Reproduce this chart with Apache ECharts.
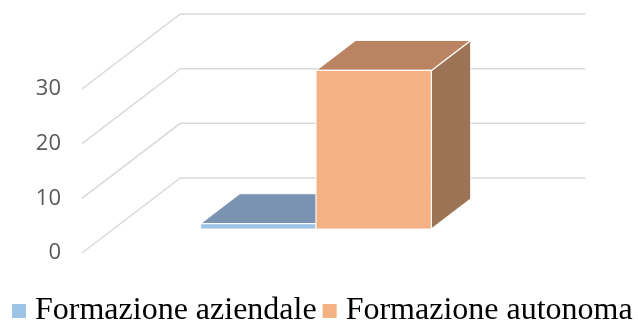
<!DOCTYPE html>
<html>
<head>
<meta charset="utf-8">
<script src="https://cdn.jsdelivr.net/npm/echarts@6/dist/echarts.min.js"></script>
<style>
  html, body { margin: 0; padding: 0; background: #fff; }
  #chart { width: 638px; height: 324px; }
</style>
</head>
<body>
<div id="chart"></div>
<script>
// Grafico a barre 3D (stile Excel) simulato con serie custom

var categories = [''];
var seriesNames = ['Formazione aziendale', 'Formazione autonoma'];
var aziendale = [1];
var autonoma = [29];
var yTicks = [0, 10, 20, 30];

// prospettiva obliqua: vettore profondità del "pavimento"
var DEPTH = { x: 98.3, y: -75 };
var D0 = 0.32, D1 = 0.72;     // posizione della barra in profondità
var BAR_RATIO = 0.285;        // larghezza barra / larghezza categoria

function gridLines(params, api) {
  var cs = params.coordSys;
  var p = api.coord([0, api.value(1)]);
  var y = p[1];
  var x0 = cs.x, x1 = cs.x + cs.width;
  return {
    type: 'polyline',
    shape: {
      points: [
        [x0, y],
        [x0 + DEPTH.x, y + DEPTH.y],
        [x1 + DEPTH.x, y + DEPTH.y]
      ]
    },
    style: { stroke: '#d9d9d9', lineWidth: 1.5, fill: null }
  };
}

function makeBox(slot, front, top, side) {
  return function (params, api) {
    var base = api.coord([api.value(0), 0]);
    var head = api.coord([api.value(0), api.value(1)]);
    var bw = api.size([1, 0])[0] * BAR_RATIO;
    var xl = base[0] + slot * bw, xr = xl + bw;
    var fx = D0 * DEPTH.x, fy = D0 * DEPTH.y;
    var bx = D1 * DEPTH.x, by = D1 * DEPTH.y;
    var edge = { stroke: 'rgba(255,255,255,0.9)', lineWidth: 1.2, lineJoin: 'round' };
    return {
      type: 'group',
      children: [
        {
          type: 'polygon',
          shape: { points: [[xr + fx, head[1] + fy], [xr + bx, head[1] + by], [xr + bx, base[1] + by], [xr + fx, base[1] + fy]] },
          style: Object.assign({ fill: side }, edge)
        },
        {
          type: 'polygon',
          shape: { points: [[xl + fx, head[1] + fy], [xr + fx, head[1] + fy], [xr + bx, head[1] + by], [xl + bx, head[1] + by]] },
          style: Object.assign({ fill: top }, edge)
        },
        {
          type: 'rect',
          shape: { x: xl + fx, y: head[1] + fy, width: bw, height: base[1] - head[1] },
          style: Object.assign({ fill: front }, edge)
        }
      ]
    };
  };
}

var chart = echarts.init(document.getElementById('chart'));
var option = {
  animation: false,
  grid: { left: 82, right: 151, top: 89, bottom: 71 },
  xAxis: {
    type: 'category',
    data: categories,
    show: false
  },
  yAxis: {
    type: 'value',
    min: 0,
    max: 30,
    interval: 10,
    axisLine: { show: false },
    axisTick: { show: false },
    splitLine: { show: false },
    axisLabel: {
      color: '#595959',
      fontFamily: 'Open Sans',
      fontSize: 22,
      margin: 21
    }
  },
  legend: {
    data: seriesNames,
    left: 12,
    top: 295,
    width: 626,
    padding: 0,
    icon: 'rect',
    itemWidth: 14,
    itemHeight: 14,
    itemGap: 6,
    textStyle: {
      fontFamily: 'Liberation Serif',
      fontSize: 32,
      color: '#000',
      padding: [6, 0, 0, 4]
    }
  },
  series: [
    {
      type: 'custom',
      name: 'grid',
      z: 1,
      silent: true,
      renderItem: gridLines,
      data: yTicks.map(function (v) { return [0, v]; })
    },
    {
      type: 'custom',
      name: seriesNames[0],
      z: 2,
      itemStyle: { color: '#9dc3e6' },
      renderItem: makeBox(-1, '#9dc3e6', '#7a93b0', '#6f88a6'),
      data: aziendale.map(function (v, i) { return [i, v]; })
    },
    {
      type: 'custom',
      name: seriesNames[1],
      z: 3,
      itemStyle: { color: '#f4b183' },
      renderItem: makeBox(0, '#f4b183', '#ba8362', '#9c7354'),
      data: autonoma.map(function (v, i) { return [i, v]; })
    }
  ]
};
chart.setOption(option);
window.addEventListener('resize', function () { chart.resize(); });
</script>
</body>
</html>
